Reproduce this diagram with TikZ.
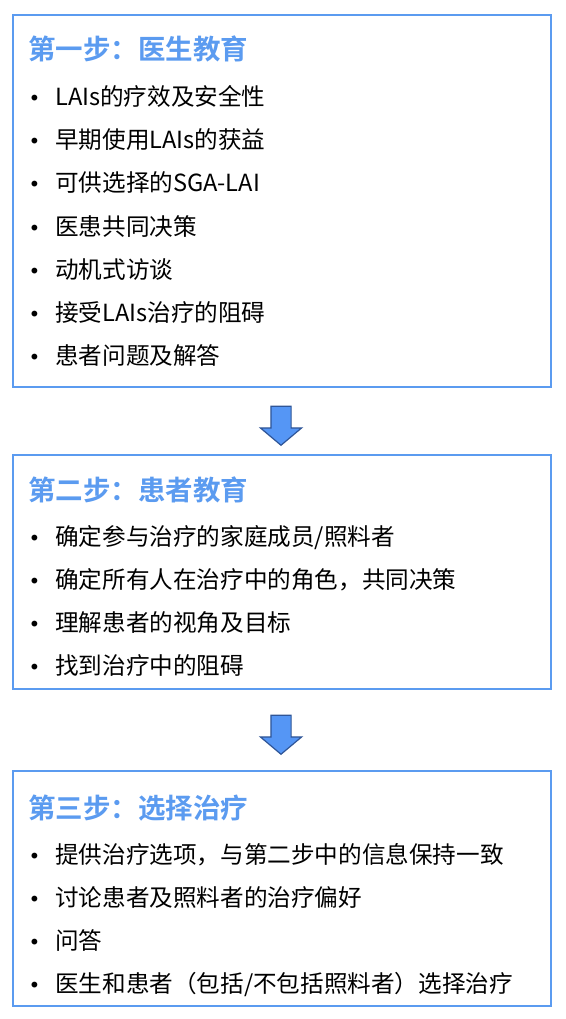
\documentclass[tikz,border=0pt]{standalone}
\usepackage{fontspec}
\setmainfont{Noto Sans CJK SC}
\newfontfamily\cjkbold{Noto Sans CJK SC Bold}
\newfontfamily\dotfont{DejaVu Sans}
\usetikzlibrary{shapes.arrows}

\definecolor{stepblue}{RGB}{91,155,240}
\definecolor{arrowfill}{RGB}{85,150,245}
\definecolor{arrowline}{RGB}{47,85,151}

\newcommand{\dotmark}{\makebox[26pt][l]{\hspace*{-0.5pt}\raisebox{0pt}{\dotfont\fontsize{20}{20}\selectfont •}}}

\tikzset{
  stepbox/.style={draw=stepblue, line width=2pt, minimum width=538pt, inner sep=0pt},
  steptitle/.style={anchor=base west, inner sep=0pt, text=stepblue,
    font=\cjkbold\fontsize{27.5}{27.5}\selectfont},
  bullet/.style={anchor=base west, inner sep=0pt,
    font=\fontsize{23.6}{23.6}\selectfont},
  downarrow/.style={single arrow, shape border rotate=270, draw=arrowline,
    fill=arrowfill, line width=1.2pt, inner sep=9.5pt, minimum height=39pt,
    single arrow head extend=10.5pt, single arrow tip angle=100}
}

\begin{document}
\begin{tikzpicture}[x=1pt, y=-1pt]
    \useasboundingbox (0,0) rectangle (565,1019);

    % Draw the three step boxes
    \node[stepbox, minimum height=372pt] (box1) at (282,201) {};
    \node[stepbox, minimum height=234pt] (box2) at (282,572) {};
    \node[stepbox, minimum height=235pt] (box3) at (282,888.5) {};

    % Arrows between the boxes
    \node[downarrow] (arrow1) at (281,421.5) {};
    \node[downarrow] (arrow2) at (281,730.5) {};

    % Step one
    \node[steptitle] (title1) at (28,60) {第一步：医生教育};
    \foreach [count=\i] \t in {LAIs的疗效及安全性, 早期使用LAIs的获益,
      可供选择的SGA-LAI, 医患共同决策, 动机式访谈,
      接受LAIs治疗的阻碍, 患者问题及解答}
      \node[bullet] (item1-\i) at (29,{106+43*(\i-1)}) {\dotmark\t};

    % Step two
    \node[steptitle] (title2) at (28,500) {第二步：患者教育};
    \foreach [count=\i] \t in {确定参与治疗的家庭成员/照料者,
      确定所有人在治疗中的角色，共同决策, 理解患者的视角及目标,
      找到治疗中的阻碍}
      \node[bullet] (item2-\i) at (29,{545+43*(\i-1)}) {\dotmark\t};

    % Step three
    \node[steptitle] (title3) at (28,818) {第三步：选择治疗};
    \foreach [count=\i] \t in {提供治疗选项，与第二步中的信息保持一致,
      讨论患者及照料者的治疗偏好, 问答,
      医生和患者（包括/不包括照料者）选择治疗}
      \node[bullet] (item3-\i) at (29,{863+43*(\i-1)}) {\dotmark\t};
\end{tikzpicture}
\end{document}
